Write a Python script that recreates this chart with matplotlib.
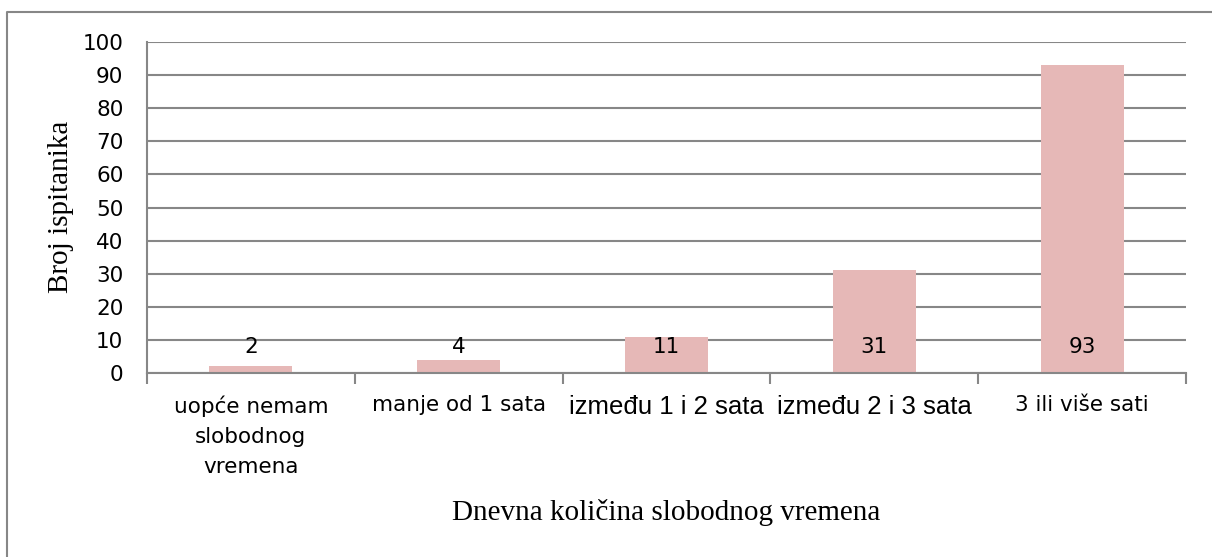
import numpy as np
import matplotlib.pyplot as plt
from matplotlib.lines import Line2D

categories = ["uopće nemam\nslobodnog\nvremena", "manje od 1 sata",
              "između 1 i 2 sata", "između 2 i 3 sata", "3 ili više sati"]
values = [2, 4, 11, 31, 93]
y_ticks = [0, 10, 20, 30, 40, 50, 60, 70, 80, 90, 100]

W, H = 1212, 557
fig = plt.figure(figsize=(W / 100, H / 100), dpi=100)
ax = fig.add_axes([147 / W, 1 - 373 / H, (1186 - 147) / W, (373 - 42) / H])

grey = '#878787'
bar_color = '#E6B8B7'
sans = 'DejaVu Sans'
fs = 15.5

x = np.arange(len(categories))
ax.bar(x, values, width=0.4, color=bar_color, zorder=2)

# data labels all sit at the same height near the base
for xi, v in zip(x, values):
    ax.text(xi, 8.0, str(v), ha='center', va='center', fontsize=fs,
            family=sans, color='black', zorder=3)

ax.set_xlim(-0.5, len(categories) - 0.5)
ax.set_ylim(0, 100)
ax.set_yticks(y_ticks)
ax.set_yticklabels([str(t) for t in y_ticks], family=sans, fontsize=fs)
ax.tick_params(axis='y', length=0, pad=17)

ax.set_xticks(x)
ax.set_xticklabels(categories, family=sans, fontsize=fs, linespacing=1.62)
ax.set_xticks(np.arange(-0.5, len(categories), 1.0), minor=True)
ax.tick_params(axis='x', which='major', length=0, pad=16)
ax.tick_params(axis='x', which='minor', length=8, width=1.5, color=grey, direction='out')
for i, lab in enumerate(ax.get_xticklabels()):
    if i in (2, 3):
        lab.set_family('Liberation Sans')
        lab.set_fontsize(18.5)

ax.yaxis.grid(True, color=grey, linewidth=1.5)
ax.set_axisbelow(True)
for side in ('top', 'right'):
    ax.spines[side].set_visible(False)
for side in ('left', 'bottom'):
    ax.spines[side].set_color(grey)
    ax.spines[side].set_linewidth(1.5)

fig.text(61 / W, 1 - 207 / H, 'Broj ispitanika', rotation=90, ha='center',
         va='center', family='Liberation Serif', fontsize=21)
fig.text(666 / W, 1 - 513 / H, 'Dnevna količina slobodnog vremena', ha='center',
         va='center', family='Liberation Serif', fontsize=21)

# chart frame (left and top edges visible)
fig.add_artist(Line2D([7 / W, 7 / W, 1], [0, 1 - 12 / H, 1 - 12 / H],
                      transform=fig.transFigure, color=grey, linewidth=1.5))

fig.savefig('out.png', dpi=100)
